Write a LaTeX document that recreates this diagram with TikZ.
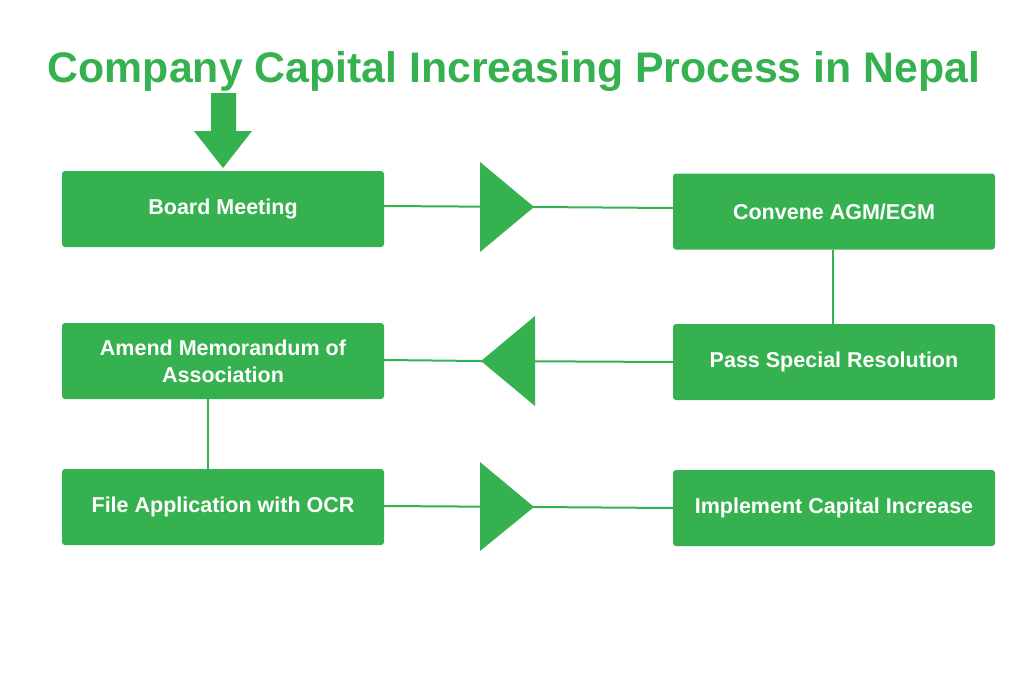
\documentclass[tikz,border=0pt]{standalone}
\usepackage{fontspec}
\setmainfont{Liberation Sans}
\definecolor{grn}{HTML}{35B24F}
\tikzset{
  box/.style={fill=grn, rounded corners=3pt, minimum width=322pt, minimum height=76pt, text=white, font=\fontsize{21.5}{27}\selectfont\bfseries, align=center, inner sep=0pt},
  conn/.style={draw=grn, line width=2pt},
  tri/.style={fill=grn}
}
\begin{document}
\begin{tikzpicture}[x=1pt,y=-1pt]
\useasboundingbox (0,0) rectangle (1024,683);
\node[text=grn, font=\fontsize{42.8}{48}\selectfont\bfseries, anchor=base] (title) at (514,82) {Company Capital Increasing Process in Nepal};
% top arrow
\fill[grn] (211,93) -- (236,93) -- (236,131) -- (252,131) -- (223,168) -- (194,131) -- (211,131) -- cycle;
\node[box] (bm) at (223,209) {Board Meeting};
\node[box] (cv) at (834,211.5) {Convene AGM/EGM};
\node[box] (am) at (223,361) {Amend Memorandum of\\Association};
\node[box] (ps) at (834,362) {Pass Special Resolution};
\node[box] (fa) at (223,507) {File Application with OCR};
\node[box] (ic) at (834,508) {Implement Capital Increase};
% row 1
\coordinate (t1) at (534,207);
\draw[conn] (bm.east |- 0,206) -- (t1) -- (cv.west |- 0,208);
\fill[grn] (480,162) -- (534,207) -- (480,252) -- cycle;
% row 2
\coordinate (t2) at (481,361);
\draw[conn] (ps.west |- 0,362) -- (t2) -- (am.east |- 0,360);
\fill[grn] (535,316) -- (481,361) -- (535,406) -- cycle;
% row 3
\coordinate (t3) at (534,507);
\draw[conn] (fa.east |- 0,506) -- (t3) -- (ic.west |- 0,508);
\fill[grn] (480,462) -- (534,507) -- (480,551) -- cycle;
% verticals
\draw[conn] (cv.south -| 833,0) -- (ps.north -| 833,0);
\draw[conn] (am.south -| 208,0) -- (fa.north -| 208,0);
\end{tikzpicture}
\end{document}
